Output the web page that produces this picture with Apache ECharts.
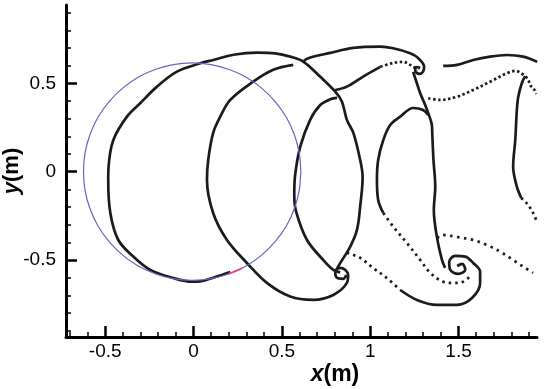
<!DOCTYPE html>
<html>
<head>
<meta charset="utf-8">
<script src="https://cdn.jsdelivr.net/npm/echarts@6/dist/echarts.min.js"></script>
<style>
html, body { margin: 0; padding: 0; background: #fff; }
#graph { width: 550px; height: 389px; }
</style>
</head>
<body>
<div id="graph"></div>
<script>
// tick values
var xMajor = [-0.5, 0, 0.5, 1, 1.5];
var xMinor = [-0.7, -0.6, -0.4, -0.3, -0.2, -0.1, 0.1, 0.2, 0.3, 0.4, 0.6, 0.7, 0.8, 0.9, 1.1, 1.2, 1.3, 1.4, 1.6, 1.7, 1.8, 1.9];
var yMajor = [-0.5, 0, 0.5];
var yMinor = [-0.9, -0.8, -0.7, -0.6, -0.4, -0.3, -0.2, -0.1, 0.1, 0.2, 0.3, 0.4, 0.6, 0.7, 0.8, 0.9];

// cylinder outline (blue) and the small red piece on it
var cylinder = [[0.607,0],[0.598,0.107],[0.570,0.210],[0.525,0.308],[0.463,0.395],[0.387,0.471],[0.300,0.533],
    [0.202,0.578],[0.099,0.606],[-0.008,0.615],[-0.115,0.606],[-0.218,0.578],[-0.316,0.533],[-0.403,0.471],
    [-0.479,0.395],[-0.541,0.308],[-0.586,0.210],[-0.614,0.107],[-0.623,0],[-0.614,-0.107],[-0.586,-0.210],
    [-0.541,-0.308],[-0.479,-0.395],[-0.403,-0.471],[-0.316,-0.533],[-0.218,-0.578],[-0.115,-0.606],
    [-0.008,-0.615],[0.099,-0.606],[0.202,-0.578],[0.300,-0.533],[0.387,-0.471],[0.463,-0.395],[0.525,-0.308],
    [0.570,-0.210],[0.598,-0.107],[0.607,0]];
var redPiece = [[0.200,-0.578],[0.240,-0.562],[0.275,-0.546]];

// vortex sheets, solid parts
var sheet1 = [[0.208,-0.568],[0.123,-0.596],[0.038,-0.621],[-0.009,-0.623],[-0.115,-0.602],[-0.245,-0.556],
    [-0.341,-0.481],[-0.426,-0.387],[-0.471,-0.234],[-0.483,-0.047],[-0.481,0.028],[-0.454,0.179],[-0.377,0.311],
    [-0.302,0.387],[-0.207,0.481],[-0.094,0.566],[0.038,0.613],[0.111,0.632],[0.236,0.663],[0.359,0.673],
    [0.462,0.669],[0.547,0.651],[0.621,0.623],[0.716,0.538],[0.802,0.453],[0.840,0.396],[0.868,0.293],
    [0.905,0.218],[0.943,0.066],[0.957,-0.030],[0.943,-0.198],[0.925,-0.330],[0.887,-0.424],[0.830,-0.518],[0.808,-0.556]];
var sheet2 = [[0.564,0.604],[0.451,0.576],[0.338,0.509],[0.208,0.406],[0.151,0.311],[0.111,0.219],[0.083,0.066],
    [0.076,-0.047],[0.111,-0.234],[0.189,-0.387],[0.302,-0.517],[0.415,-0.630],[0.547,-0.707],[0.677,-0.726],
    [0.791,-0.698],[0.868,-0.630],[0.875,-0.585],[0.858,-0.556],[0.830,-0.545],[0.802,-0.568],[0.813,-0.602],
    [0.847,-0.607],[0.864,-0.585]];
var sheet3 = [[0.812,0.417],[0.774,0.410],[0.717,0.377],[0.660,0.293],[0.604,0.141],[0.575,-0.019],[0.570,-0.132],
    [0.581,-0.228],[0.642,-0.387],[0.734,-0.500],[0.791,-0.556],[0.830,-0.570]];
var topSheet = [[0.621,0.623],[0.649,0.642],[0.774,0.672],[0.904,0.700],[1.057,0.707],[1.130,0.698],[1.226,0.670],
    [1.271,0.643],[1.305,0.594],[1.299,0.565],[1.277,0.553],[1.255,0.570],[1.260,0.592],[1.283,0.587]];
var midSheet = [[0.802,0.462],[0.868,0.481],[0.960,0.538],[1.057,0.593]];
var downSheet = [[1.243,0.565],[1.264,0.500],[1.283,0.444],[1.311,0.377],[1.328,0.332],[1.349,0.264],[1.351,0.217],
    [1.358,0.066],[1.368,-0.085],[1.360,-0.217],[1.377,-0.368],[1.406,-0.500],[1.424,-0.545]];
var sheet4 = [[1.328,0.320],[1.299,0.349],[1.243,0.360],[1.170,0.311],[1.113,0.264],[1.074,0.179],[1.045,0.066],
    [1.038,-0.047],[1.045,-0.160],[1.074,-0.234]];
var lowSheet = [[1.170,-0.670],[1.264,-0.726],[1.377,-0.754],[1.491,-0.754],[1.576,-0.715],[1.622,-0.630],
    [1.622,-0.566],[1.583,-0.517],[1.538,-0.481],[1.481,-0.477],[1.447,-0.511],[1.453,-0.556],[1.498,-0.579],
    [1.538,-0.556],[1.521,-0.522],[1.492,-0.534]];
var farTop = [[1.413,0.598],[1.491,0.604],[1.583,0.632],[1.679,0.651],[1.774,0.660],[1.866,0.651],[1.945,0.621]];
var farRight = [[1.877,0.540],[1.858,0.500],[1.838,0.424],[1.830,0.349],[1.821,0.179],[1.809,0.028],[1.830,-0.085],[1.855,-0.149]];

// vortex sheets, dotted parts
var midDots = [[1.057,0.593],[1.130,0.615],[1.187,0.621],[1.226,0.604],[1.271,0.576]];
var rightDots = [[1.328,0.415],[1.396,0.406],[1.491,0.424],[1.583,0.462],[1.679,0.509],[1.774,0.557],[1.821,0.570],
    [1.860,0.553],[1.894,0.521],[1.905,0.490],[1.925,0.470],[1.940,0.440]];
var sheet4Dots = [[1.074,-0.234],[1.130,-0.311],[1.208,-0.405],[1.283,-0.500],[1.340,-0.573],[1.413,-0.623],
    [1.470,-0.630],[1.526,-0.623],[1.566,-0.590]];
var lowDots = [[0.868,-0.459],[0.943,-0.488],[1.016,-0.545],[1.094,-0.602],[1.170,-0.670]];
var branchDots = [[1.379,-0.376],[1.407,-0.358],[1.491,-0.370],[1.583,-0.387],[1.660,-0.415],[1.736,-0.453],
    [1.809,-0.500],[1.866,-0.538],[1.922,-0.573]];
var farRightDots = [[1.855,-0.149],[1.889,-0.183],[1.922,-0.234],[1.943,-0.283]];

var myChart = echarts.init(document.getElementById('graph'));

function sheet(data, dash) {
    return {
        type: 'line',
        data: data,
        showSymbol: false,
        smooth: 0.35,
        silent: true,
        z: 2,
        lineStyle: {
            color: '#1b1b1b',
            width: 2.7,
            type: dash || 'solid',
            cap: 'butt',
            join: 'round'
        }
    };
}

var labelFont = 'Arial, "Liberation Sans", sans-serif';

var option = {
    animation: false,
    grid: {
        left: 66,
        right: 13,
        top: 5,
        bottom: 52,
        containLabel: false,
        outerBoundsMode: 'none'
    },
    xAxis: [
        {
            type: 'value',
            min: -0.722,
            max: 1.944,
            splitLine: { show: false },
            axisLine: { show: true, onZero: false, lineStyle: { color: '#000', width: 3 } },
            axisTick: { show: true, inside: true, length: 11, customValues: xMajor,
                lineStyle: { color: '#000', width: 2.5 } },
            axisLabel: { customValues: xMajor, color: '#000', fontSize: 19, fontFamily: labelFont, margin: 5 },
            name: '{i|x}{b|(m)}',
            nameLocation: 'middle',
            nameGap: 26,
            nameMoveOverlap: false,
            nameTextStyle: {
                padding: [0, 0, 0, 67],
                rich: {
                    i: { fontStyle: 'italic', fontWeight: 'bold', fontSize: 23, fontFamily: labelFont, color: '#000' },
                    b: { fontWeight: 'bold', fontSize: 23, fontFamily: labelFont, color: '#000' }
                }
            }
        },
        {
            type: 'value',
            min: -0.722,
            max: 1.944,
            position: 'bottom',
            splitLine: { show: false },
            axisLine: { show: false, onZero: false },
            axisTick: { show: true, inside: true, length: 5, customValues: xMinor,
                lineStyle: { color: '#000', width: 1.5 } },
            axisLabel: { show: false }
        }
    ],
    yAxis: [
        {
            type: 'value',
            min: -0.936,
            max: 0.943,
            splitLine: { show: false },
            axisLine: { show: true, onZero: false, lineStyle: { color: '#000', width: 3 } },
            axisTick: { show: true, inside: true, length: 11, customValues: yMajor,
                lineStyle: { color: '#000', width: 2.5 } },
            axisLabel: { customValues: yMajor, color: '#000', fontSize: 19, fontFamily: labelFont, margin: 10 },
            name: '{i|y}{b|(m)}',
            nameLocation: 'middle',
            nameGap: 43,
            nameMoveOverlap: false,
            nameTextStyle: {
                rich: {
                    i: { fontStyle: 'italic', fontWeight: 'bold', fontSize: 22, fontFamily: labelFont, color: '#000' },
                    b: { fontWeight: 'bold', fontSize: 22, fontFamily: labelFont, color: '#000' }
                }
            }
        },
        {
            type: 'value',
            min: -0.936,
            max: 0.943,
            position: 'left',
            splitLine: { show: false },
            axisLine: { show: false, onZero: false },
            axisTick: { show: true, inside: true, length: 5, customValues: yMinor,
                lineStyle: { color: '#000', width: 1.5 } },
            axisLabel: { show: false }
        }
    ],
    series: [
        sheet(sheet1), sheet(sheet2), sheet(sheet3), sheet(topSheet), sheet(midSheet),
        sheet(downSheet), sheet(sheet4), sheet(lowSheet), sheet(farTop), sheet(farRight),
        sheet(midDots, [2.5, 2.5]), sheet(rightDots, [2.5, 2.5]), sheet(sheet4Dots, [2.5, 4]),
        sheet(lowDots, [2.5, 4]), sheet(branchDots, [2.5, 4.5]), sheet(farRightDots, [2.5, 3.5]),
        {
            type: 'line',
            data: cylinder,
            showSymbol: false,
            smooth: 0.3,
            silent: true,
            z: 3,
            lineStyle: { color: '#6464c8', width: 1.2 }
        },
        {
            type: 'line',
            data: redPiece,
            showSymbol: false,
            smooth: 0.5,
            silent: true,
            z: 4,
            lineStyle: { color: '#e0507c', width: 2 }
        }
    ]
};

myChart.setOption(option);
</script>
</body>
</html>
